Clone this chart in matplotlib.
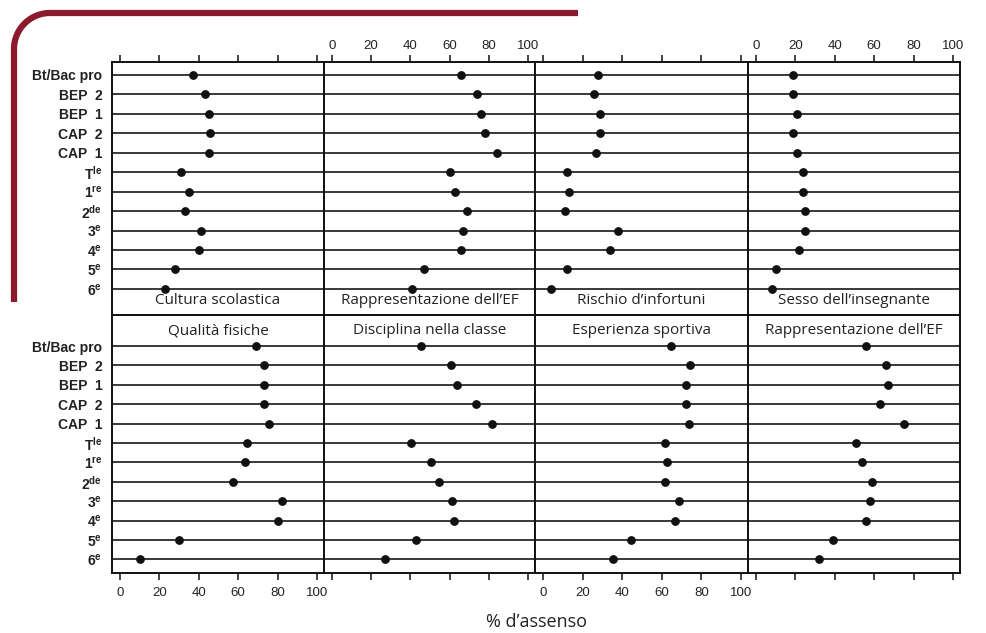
import numpy as np
import matplotlib
matplotlib.use("Agg")
import matplotlib.pyplot as plt
from matplotlib.lines import Line2D

plt.rcParams['mathtext.fontset'] = 'custom'
plt.rcParams['mathtext.rm'] = 'Liberation Sans:bold'
plt.rcParams['mathtext.bf'] = 'Liberation Sans:bold'

# ---------------- data ----------------
categories = ["Bt/Bac pro", "BEP  2", "BEP  1", "CAP  2", "CAP  1",
              r"T$^{\mathbf{le}}$", r"1$^{\mathbf{re}}$", r"2$^{\mathbf{de}}$",
              r"3$^{\mathbf{e}}$", r"4$^{\mathbf{e}}$", r"5$^{\mathbf{e}}$", r"6$^{\mathbf{e}}$"]

titles_top = ["Cultura scolastica", "Rappresentazione dell\u2019EF",
              "Rischio d\u2019infortuni", "Sesso dell\u2019insegnante"]
titles_bottom = ["Qualità fisiche", "Disciplina nella classe",
                 "Esperienza sportiva", "Rappresentazione dell\u2019EF"]

cultura_scolastica = [37, 43, 45, 45.5, 45, 31, 35, 33, 41, 40, 28, 23]
rappresentazione_ef_1 = [66, 74, 76, 78, 84, 60, 63, 69, 67, 66, 47, 41]
rischio_infortuni = [28, 26, 29, 29, 27, 12, 13, 11, 38, 34, 12, 4]
sesso_insegnante = [19, 19, 21, 19, 21, 24, 24, 25, 25, 22, 10, 8]

qualita_fisiche = [69, 73, 73, 73, 75.5, 64.5, 63.5, 57.5, 82.5, 80, 30, 10]
disciplina_classe = [45.5, 61, 64, 73.5, 81.5, 40.5, 50.5, 54.5, 61.5, 62.5, 43, 27]
esperienza_sportiva = [64.5, 74.5, 72.5, 72.5, 74, 61.5, 62.5, 61.5, 68.5, 66.5, 44.5, 35.5]
rappresentazione_ef_2 = [56, 66, 67, 63, 75, 51, 54, 59, 58, 56, 39, 32]

top_values = [cultura_scolastica, rappresentazione_ef_1, rischio_infortuni, sesso_insegnante]
bottom_values = [qualita_fisiche, disciplina_classe, esperienza_sportiva, rappresentazione_ef_2]

xticks = [0, 20, 40, 60, 80, 100]
xlabel = "% d\u2019assenso"

# ---------------- layout ----------------
W, H = 986, 633
fig = plt.figure(figsize=(W / 100, H / 100), dpi=100)
fig.patch.set_facecolor("white")

col_edges = [112, 324, 535, 748, 960]
rows_px = [(61.5, 315), (315, 573.3)]
ylims = [(12.34, -0.69), (11.72, -1.6)]
title_y = [301, 331]

ypos = np.arange(len(categories))

for r, (vals_set, titles) in enumerate([(top_values, titles_top), (bottom_values, titles_bottom)]):
    ytop, ybot = rows_px[r]
    for c in range(4):
        x0, x1 = col_edges[c], col_edges[c + 1]
        ax = fig.add_axes([x0 / W, 1 - ybot / H, (x1 - x0) / W, (ybot - ytop) / H])
        vals = vals_set[c]
        for yy in ypos:
            ax.axhline(yy, color="#2a2a2a", lw=1.3, zorder=1)
        ax.plot(vals, ypos, "o", color="#111111", markersize=5.3, zorder=3)
        ax.set_xlim(-4, 103.6)
        ax.set_ylim(*ylims[r])
        ax.set_xticks(xticks)
        ax.set_yticks(ypos)
        for s in ax.spines.values():
            s.set_linewidth(1.4)
            s.set_color("#111111")
        if c == 0:
            ax.set_yticklabels(categories, fontsize=10, fontweight="bold",
                               family="Liberation Sans", color="#222222")
            ax.tick_params(axis="y", length=0, pad=7)
        else:
            ax.set_yticklabels([])
            ax.tick_params(axis="y", length=0)
        if r == 0:
            ax.xaxis.tick_top()
            ax.tick_params(axis="x", direction="out", length=5, width=1.2,
                           top=True, bottom=False, labeltop=(c in (1, 3)),
                           labelbottom=False, pad=2, labelsize=9.5, colors="#222222")
        else:
            ax.tick_params(axis="x", direction="out", length=5, width=1.2,
                           top=False, bottom=True, labelbottom=(c in (0, 2)),
                           pad=5, labelsize=9.5, colors="#222222")
        for lab in ax.get_xticklabels():
            lab.set_family("Liberation Sans")
        ty = (ybot - title_y[r]) / (ybot - ytop)
        ax.text(0.5, ty, titles[c], transform=ax.transAxes, ha="center", va="center",
                fontsize=11, family="Open Sans", color="#222222")

fig.text(537 / W, 1 - 622 / H, xlabel, ha="center", va="center",
         fontsize=13, family="Open Sans", color="#222222")

# decorative maroon frame (top-left)
rad = 36
xl, yt = 14, 13
theta = np.linspace(np.pi, np.pi / 2, 40)
arc_x = xl + rad + rad * np.cos(theta)
arc_y = yt + rad - rad * np.sin(theta)
px = np.concatenate([[xl], arc_x, [578]])
py = np.concatenate([[302], arc_y, [yt]])
fig.add_artist(Line2D(px / W, 1 - py / H, transform=fig.transFigure,
                      color="#8a1a2c", lw=4.5, solid_capstyle="butt"))

fig.savefig("out.png", dpi=100)
